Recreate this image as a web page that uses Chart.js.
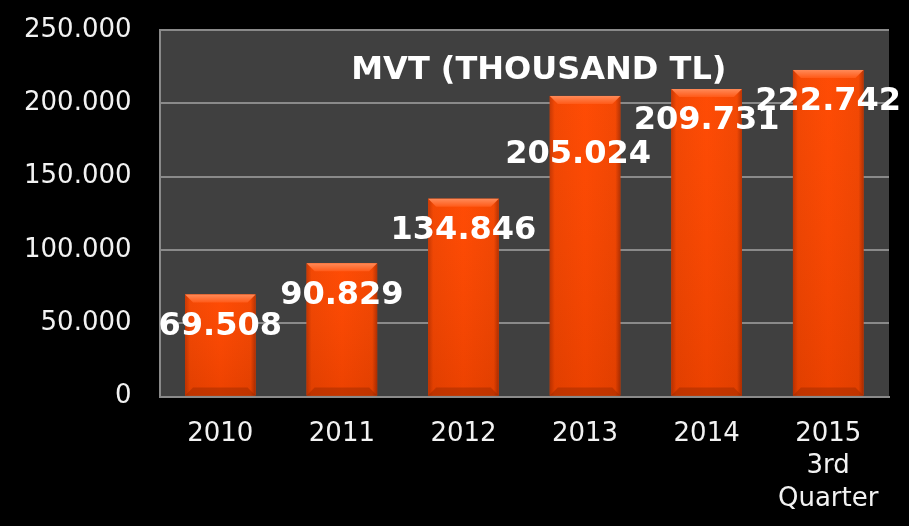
<!DOCTYPE html>
<html>
<head>
<meta charset="utf-8">
<script src="https://cdn.jsdelivr.net/npm/chart.js@4.4.1/dist/chart.umd.min.js"></script>
<style>
  html, body { margin: 0; padding: 0; background: #000; }
  #wrap { width: 909px; height: 526px; }
</style>
</head>
<body>
<div id="wrap"><canvas id="mvt"></canvas></div>
<script>
// MVT values per year, thousand TL
const years = ['2010', '2011', '2012', '2013', '2014', ['2015', '3rd', 'Quarter']];
const mvt = [69508, 90829, 134846, 205024, 209731, 222742];
const yTicks = [0, 50000, 100000, 150000, 200000, 250000];
const chartTitle = 'MVT (THOUSAND TL)';

// 250000 -> "250.000"
function dots(v) {
  return Math.round(v).toString().replace(/\B(?=(\d{3})+(?!\d))/g, '.');
}

// dark plot area + black page
const backdrop = {
  id: 'backdrop',
  beforeDraw(chart) {
    const { ctx, chartArea: a } = chart;
    ctx.save();
    ctx.fillStyle = '#000';
    ctx.fillRect(0, 0, chart.width, chart.height);
    ctx.fillStyle = '#404040';
    ctx.fillRect(a.left, a.top, a.right - a.left, a.bottom - a.top);
    ctx.restore();
  }
};

// bevelled orange bars, value labels and the title inside the plot
const dressing = {
  id: 'dressing',
  afterDatasetsDraw(chart) {
    const ctx = chart.ctx;
    const meta = chart.getDatasetMeta(0);
    ctx.save();
    meta.data.forEach((bar, i) => {
      const l = bar.x - bar.width / 2, r = bar.x + bar.width / 2;
      const t = bar.y, b = bar.base;
      const g = ctx.createLinearGradient(l, 0, r, 0);
      g.addColorStop(0, '#c43400');
      g.addColorStop(0.07, '#f24500');
      g.addColorStop(0.5, '#ff4800');
      g.addColorStop(0.93, '#f24500');
      g.addColorStop(1, '#b02e00');
      ctx.fillStyle = g;
      ctx.fillRect(l, t, r - l, b - t);
      // slight darkening towards the base
      const vg = ctx.createLinearGradient(0, t, 0, b);
      vg.addColorStop(0, 'rgba(255,120,60,0.08)');
      vg.addColorStop(1, 'rgba(100,20,0,0.12)');
      ctx.fillStyle = vg;
      ctx.fillRect(l, t, r - l, b - t);
      // top bevel
      const bev = 8;
      const tg = ctx.createLinearGradient(0, t, 0, t + bev);
      tg.addColorStop(0, '#ff8a58');
      tg.addColorStop(1, '#ff5a18');
      ctx.fillStyle = tg;
      ctx.beginPath();
      ctx.moveTo(l, t);
      ctx.lineTo(r, t);
      ctx.lineTo(r - bev, t + bev);
      ctx.lineTo(l + bev, t + bev);
      ctx.closePath();
      ctx.fill();
      // bottom bevel
      ctx.fillStyle = 'rgba(150,40,0,0.45)';
      ctx.beginPath();
      ctx.moveTo(l, b);
      ctx.lineTo(r, b);
      ctx.lineTo(r - bev, b - bev);
      ctx.lineTo(l + bev, b - bev);
      ctx.closePath();
      ctx.fill();
    });

    ctx.fillStyle = '#ffffff';
    ctx.font = 'bold 32px "DejaVu Sans", Verdana, sans-serif';
    ctx.textAlign = 'center';
    ctx.textBaseline = 'middle';
    meta.data.forEach((bar, i) => {
      let dy = 32, dx = 0;
      if (i === 3) { dy = 59; dx = -7; }
      ctx.fillText(dots(mvt[i]), bar.x + dx, bar.y + dy);
    });

    const a = chart.chartArea;
    ctx.fillText(chartTitle, a.left + (a.right - a.left) * 0.52, a.top + 41);
    ctx.restore();
  }
};

const config = {
  type: 'bar',
  data: {
    labels: years,
    datasets: [{
      label: chartTitle,
      data: mvt,
      backgroundColor: '#ff4800',
      categoryPercentage: 0.58,
      barPercentage: 1
    }]
  },
  options: {
    responsive: true,
    maintainAspectRatio: false,
    animation: false,
    layout: { padding: { left: 24, right: 20, top: 30, bottom: 0 } },
    plugins: {
      legend: { display: false },
      tooltip: { enabled: false }
    },
    scales: {
      x: {
        grid: { display: false },
        border: { color: '#8a8a8a', width: 2 },
        afterFit(axis) { axis.height -= 2; },
        ticks: {
          color: '#f2f2f2',
          font: { family: '"DejaVu Sans", Verdana, sans-serif', size: 26, lineHeight: 1.25 },
          padding: 13,
          maxRotation: 0,
          autoSkip: false
        }
      },
      y: {
        min: 0,
        max: 250000,
        afterBuildTicks(axis) { axis.ticks = yTicks.map(v => ({ value: v })); },
        // padding is counted twice in the width, take one back
        afterFit(axis) { axis.width -= 28; },
        grid: { color: '#8a8a8a', lineWidth: 2, drawTicks: false },
        border: { color: '#8a8a8a', width: 2 },
        ticks: {
          color: '#f2f2f2',
          font: { family: '"DejaVu Sans", Verdana, sans-serif', size: 26, lineHeight: 0.1 },
          padding: 28,
          callback: v => dots(v)
        }
      }
    }
  },
  plugins: [backdrop, dressing]
};

const mvtChart = new Chart(document.getElementById('mvt'), config);
</script>
</body>
</html>
